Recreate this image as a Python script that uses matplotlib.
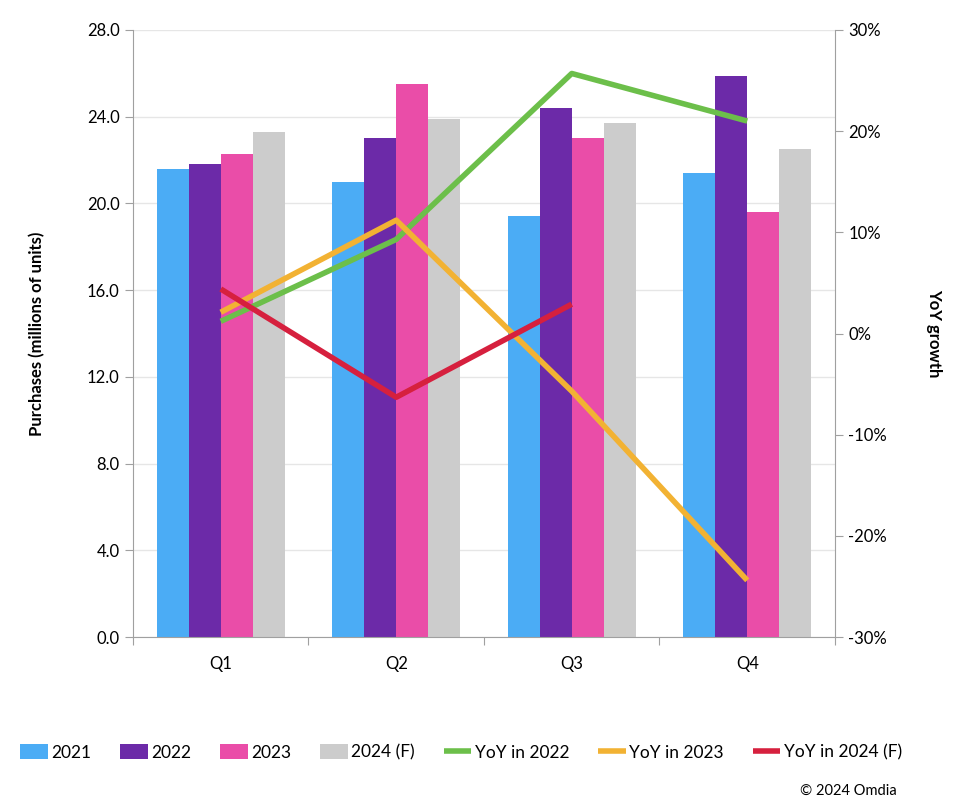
import numpy as np
import matplotlib.pyplot as plt
from matplotlib.ticker import FixedLocator, PercentFormatter

plt.rcParams['font.family'] = ['Lato', 'DejaVu Sans']
plt.rcParams['axes.unicode_minus'] = False

quarters = ["Q1", "Q2", "Q3", "Q4"]
years = ["2021", "2022", "2023", "2024 (F)"]
purchases = {
    "2021": [21.6, 21.0, 19.4, 21.4],
    "2022": [21.8, 23.0, 24.4, 25.9],
    "2023": [22.3, 25.5, 23.0, 19.6],
    "2024 (F)": [23.3, 23.9, 23.7, 22.5],
}
yoy_2022 = [1.2, 9.3, 25.7, 21.0]
yoy_2023 = [2.1, 11.2, -5.7, -24.4]
yoy_2024 = [4.4, -6.3, 2.9]

bar_colors = ["#4BACF5", "#6C2AA8", "#EA4DA8", "#CCCCCC"]
line_colors = ["#6CBF4A", "#F2B233", "#D6203E"]

fig = plt.figure(figsize=(9.75, 8.08), dpi=100)
ax = fig.add_axes([0.1364, 0.2116, 0.7200, 0.7513])
ax2 = ax.twinx()

x = np.arange(len(quarters))
w = 0.183
handles = []
for i, yr in enumerate(years):
    b = ax.bar(x + (i - 1.5) * w, purchases[yr], w, color=bar_colors[i], label=yr, zorder=2)
    handles.append(b)

for vals, c, lab in zip([yoy_2022, yoy_2023, yoy_2024], line_colors,
                        ["YoY in 2022", "YoY in 2023", "YoY in 2024 (F)"]):
    l, = ax2.plot(x[:len(vals)], vals, color=c, lw=4, label=lab, solid_capstyle="butt")
    handles.append(l)

ax.set_ylim(0, 28)
ax.set_yticks(np.arange(0, 28.1, 4))
ax.set_yticklabels([f"{v:.1f}" for v in np.arange(0, 28.1, 4)])
ax.yaxis.grid(True, color="#E6E6E6", lw=1, zorder=0)
ax.set_axisbelow(True)
ax.set_xlim(-0.5, 3.5)
ax.set_xticks(np.arange(-0.5, 3.6, 1))
ax.set_xticklabels([])
ax.xaxis.set_minor_locator(FixedLocator(x))
ax.set_xticklabels(quarters, minor=True)
ax.tick_params(axis="x", which="minor", length=0, pad=14, labelsize=12)
ax.tick_params(axis="x", which="major", length=6, color="#A0A0A0")
ax.tick_params(axis="y", length=6, color="#A0A0A0", labelsize=12)

ax2.set_ylim(-30, 30)
ax2.set_yticks(np.arange(-30, 31, 10))
ax2.yaxis.set_major_formatter(PercentFormatter(decimals=0))
ax2.tick_params(axis="y", length=6, color="#A0A0A0", labelsize=12)

for a in (ax, ax2):
    a.spines["top"].set_visible(False)
    for s in ("left", "right", "bottom"):
        a.spines[s].set_color("#A0A0A0")
ax.spines["right"].set_visible(False)
ax2.spines["left"].set_visible(False)
ax2.spines["bottom"].set_visible(False)

ax.set_ylabel("Purchases (millions of units)", fontsize=12, fontweight="bold", labelpad=30)
ax2.set_ylabel("YoY growth", fontsize=12, fontweight="bold", rotation=270, labelpad=40)

fig.legend(handles=handles, labels=years + ["YoY in 2022", "YoY in 2023", "YoY in 2024 (F)"],
           loc="center", bbox_to_anchor=(0.473, 0.069), ncol=7, frameon=False,
           fontsize=12.5, handlelength=1.6, handleheight=1.0, handletextpad=0.2,
           columnspacing=1.65)
fig.text(0.92, 0.013, "© 2024 Omdia", ha="right", va="bottom", fontsize=10.5)

fig.savefig("out.png", dpi=100)
